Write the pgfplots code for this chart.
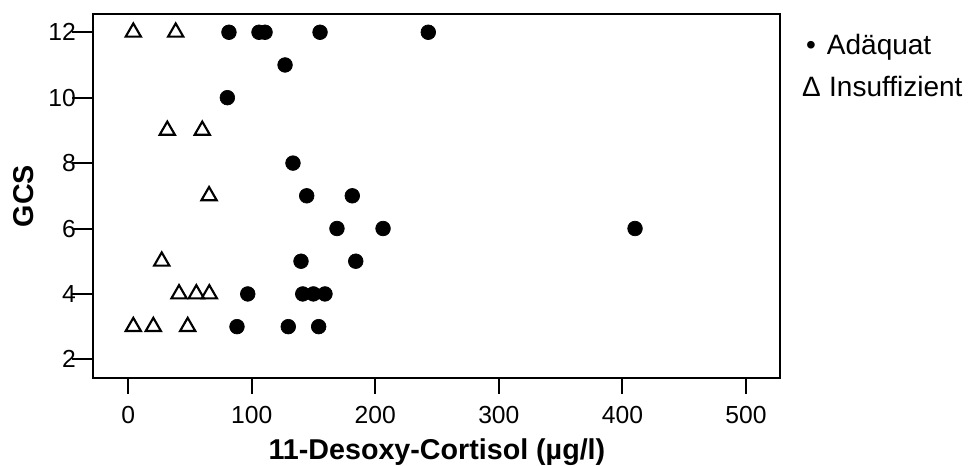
\documentclass[border=0pt]{standalone}
\usepackage{fontspec}
\setmainfont{Liberation Sans}
\usepackage{pgfplots}
\pgfplotsset{compat=1.18}

% data
\pgfplotstableread{
x y
81.6 12
105.9 12
110.8 12
155.3 12
242.9 12
127.0 11
80.3 10
133.4 8
144.5 7
181.4 7
169.0 6
206.3 6
410.2 6
139.9 5
184.2 5
96.8 4
141.3 4
149.9 4
159.3 4
88.1 3
129.6 3
154.2 3
}\adaequat

\pgfplotstableread{
x y
4.2 12
38.5 12
31.7 9
60.0 9
65.5 7
27.2 5
41.2 4
55.2 4
65.7 4
4.2 3
20.4 3
48.2 3
}\insuff

\begin{document}
\begin{tikzpicture}[x=0.75pt,y=0.75pt]
\path[use as bounding box] (-93.4,-88) rectangle (880.6,378);
\begin{axis}[
    at={(0,0)}, anchor=south west,
    scale only axis,
    width=515.3pt, height=272.8pt,
    xmin=-28.1, xmax=527.9,
    ymin=1.43, ymax=12.55,
    xtick={0,100,...,500},
    ytick={2,4,...,12},
    axis line style={line width=1.5pt},
    tick align=outside,
    xtick pos=bottom, ytick pos=left,
    major tick length=12pt,
    every tick/.style={black, line width=1.5pt},
    ytick style={/pgfplots/major tick length=15.75pt},
    /pgf/number format/assume math mode=true,
    tick label style={font=\fontsize{18.5}{21}\selectfont},
    yticklabel style={inner sep=1pt},
    xticklabel style={inner sep=1pt, yshift=-8pt},
    xlabel={11-Desoxy-Cortisol (µg/l)},
    ylabel={GCS},
    label style={font=\fontsize{21.5}{24}\selectfont\bfseries},
    xlabel style={at={(axis description cs:0.5,-0.2254)}, anchor=base},
    ylabel style={at={(axis description cs:-0.1017,0.5)}, anchor=center},
]
\addplot[only marks, mark=*, mark size=5.5pt, mark options={fill=black, draw=black, line width=0.5pt}]
    table {\adaequat};
\addplot[only marks, mark=triangle, mark size=6.6pt, mark options={draw=black, fill=white, line width=1.6pt}]
    table {\insuff};
\end{axis}
\node[anchor=base, font=\fontsize{21}{24}\selectfont] at (717.6,323) {•};
\node[anchor=base west, inner sep=0pt, font=\fontsize{21}{24}\selectfont] at (733.3,323) {Adäquat};
\node[anchor=base, font=\fontsize{21}{24}\selectfont] at (718,281) {∆};
\node[anchor=base west, inner sep=0pt, font=\fontsize{21}{24}\selectfont] at (735.5,281) {Insuffizient};
\end{tikzpicture}
\end{document}
